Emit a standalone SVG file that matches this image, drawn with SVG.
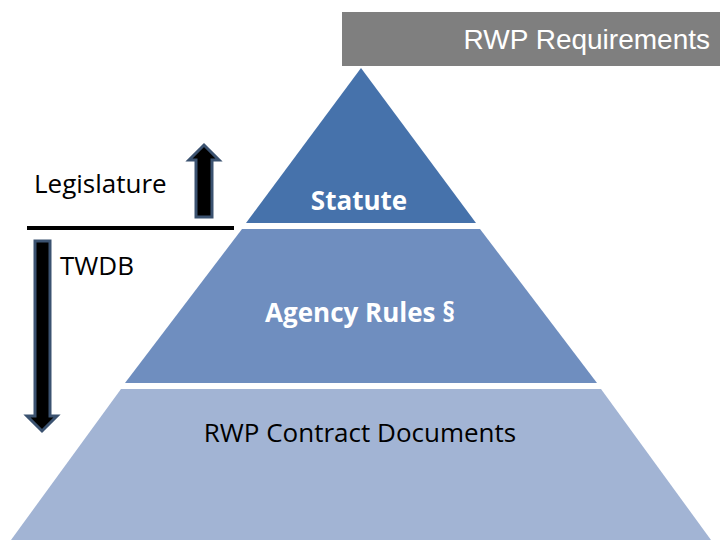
<svg xmlns="http://www.w3.org/2000/svg" width="720" height="540" viewBox="0 0 720 540">
<style>
.c{font-family:"Open Sans","Liberation Sans",sans-serif;font-size:26px;fill:#000}
.b{font-weight:bold;fill:#fff}
.arr{fill:#000;stroke:#3b5270;stroke-width:3}
</style>
<rect width="720" height="540" fill="#fff"/>
<g id="title"><rect x="342" y="12" width="378" height="54" fill="#7f7f7f"/>
<text x="710" y="49" text-anchor="end" font-family="Liberation Sans,sans-serif" font-size="28" fill="#fff">RWP Requirements</text></g>
<g id="statute"><polygon points="361,68 476,223 246,223" fill="#4672ab"/>
<text class="c b" x="359" y="210" text-anchor="middle">Statute</text></g>
<g id="rules"><polygon points="242,229 480,229 597,383 125,383" fill="#6f8ebf"/>
<text class="c b" x="360" y="322" text-anchor="middle">Agency Rules §</text></g>
<g id="rwp"><polygon points="121,389 601,389 711,540 11,540" fill="#a2b4d4"/>
<text class="c" x="360" y="442" text-anchor="middle" font-size="28">RWP Contract Documents</text></g>
<g id="labels">
<text class="c" x="34" y="193">Legislature</text>
<text class="c" x="60" y="275">TWDB</text>
</g>
<g id="connectors">
<line x1="27" y1="228" x2="234" y2="228" stroke="#000" stroke-width="4"/>
<polygon class="arr" points="196,217 212,217 212,160 219,160 204,145 189,160 196,160"/>
<polygon class="arr" points="35,241 50,241 50,416 57,416 42,431 27,416 35,416"/>
</g>
</svg>
